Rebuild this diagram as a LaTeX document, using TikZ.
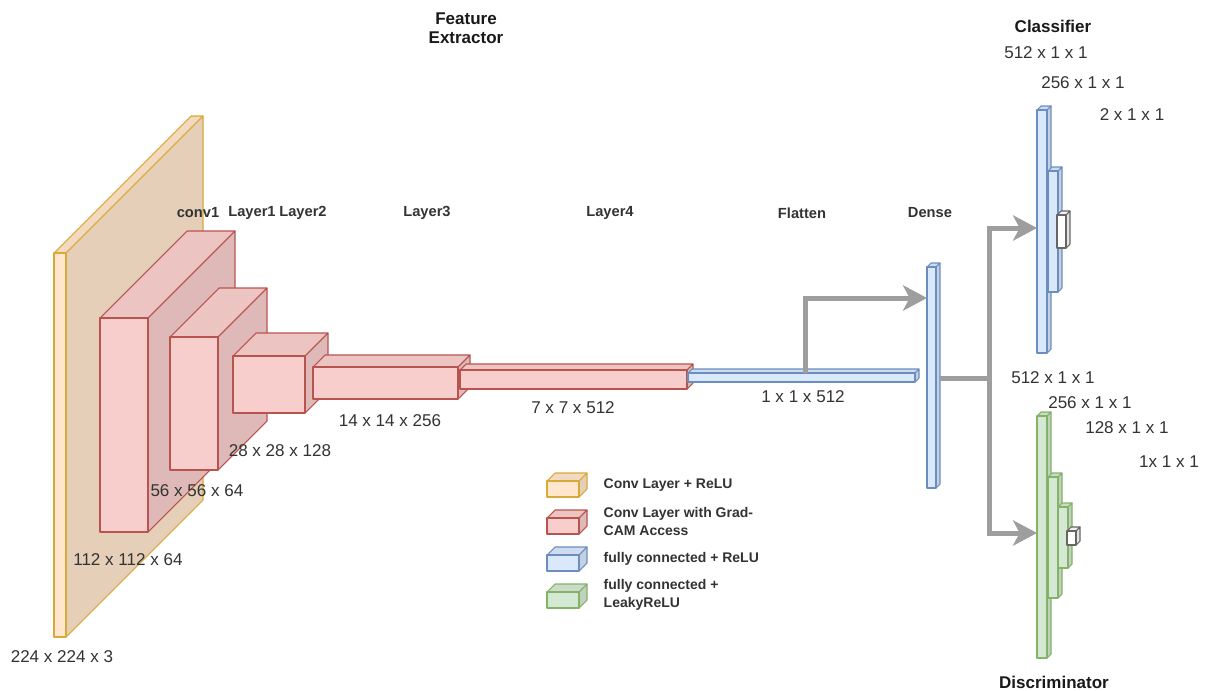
\documentclass[tikz,border=0pt]{standalone}
\usepackage{fontspec}
\setmainfont{Liberation Sans}
\usetikzlibrary{arrows.meta}
\definecolor{pinkF}{HTML}{F8CECC}\definecolor{pinkS}{HTML}{B85450}
\definecolor{yelF}{HTML}{FFE6CC}\definecolor{yelS}{HTML}{D9A93A}
\definecolor{bluF}{HTML}{DAE8FC}\definecolor{bluS}{HTML}{6C8EBF}
\definecolor{grnF}{HTML}{D5E8D4}\definecolor{grnS}{HTML}{82B366}
\definecolor{whtF}{HTML}{FFFFFF}\definecolor{whtS}{HTML}{666666}
\definecolor{arrowgrey}{HTML}{9E9E9E}
\definecolor{txt}{HTML}{333333}
\tikzset{
  cubeline/.style={line width=0.8pt, line join=round},
  ttl/.style={font=\bfseries\fontsize{12.75}{14.5}\selectfont, text=black!90, align=center},
  dim/.style={font=\fontsize{12.8}{15}\selectfont, text=txt},
  lyr/.style={font=\bfseries\fontsize{11}{13}\selectfont, text=txt},
  leg/.style={font=\bfseries\fontsize{10.5}{13.5}\selectfont, text=txt, anchor=west, align=left},
  arrowline/.style={draw=arrowgrey, line width=3.75pt},
  tipped/.style={-{Stealth[length=18pt, width=19pt, inset=5pt]}},
}
% name, x, y, w, h, d, fill, stroke
\newcommand\cuboid[8]{%
  \filldraw[draw=#8, fill=#7!95!black, cubeline] (#2,#3) -- ({#2+#6},{#3-#6}) -- ({#2+#4+#6},{#3-#6}) -- ({#2+#4},#3) -- cycle;
  \filldraw[draw=#8, fill=#7!90!black, cubeline] ({#2+#4},#3) -- ({#2+#4+#6},{#3-#6}) -- ({#2+#4+#6},{#3+#5-#6}) -- ({#2+#4},{#3+#5}) -- cycle;
  \node[draw=#8, fill=#7, cubeline, inner sep=0pt, outer sep=0pt, minimum width={#4*0.75pt}, minimum height={#5*0.75pt}, anchor=north west] (#1) at (#2,#3) {};
}
\begin{document}
\begin{tikzpicture}[x=0.75pt, y=-0.75pt]
\useasboundingbox (0,0) rectangle (1208,690);
% feature extractor
\cuboid{input}{54}{253}{12}{384}{137}{yelF}{yelS}
\cuboid{conv1}{100}{318}{48}{214}{87}{pinkF}{pinkS}
\cuboid{layer1}{170}{337}{48}{133}{49}{pinkF}{pinkS}
\cuboid{layer2}{233}{356}{72}{57}{23}{pinkF}{pinkS}
\cuboid{layer3}{313}{367}{145}{32}{12}{pinkF}{pinkS}
\cuboid{layer4}{460}{370}{227}{19}{6}{pinkF}{pinkS}
\cuboid{flat}{688}{373}{227}{9}{4}{bluF}{bluS}
\cuboid{dense}{927}{267}{9}{221}{4}{bluF}{bluS}
% classifier
\cuboid{c1}{1037}{110}{10}{243}{4}{bluF}{bluS}
\cuboid{c2}{1048}{171}{10}{121}{4}{bluF}{bluS}
\cuboid{c3}{1057}{215}{9}{33}{4}{whtF}{whtS}
% discriminator
\cuboid{d1}{1037}{416}{10}{242}{4}{grnF}{grnS}
\cuboid{d2}{1048}{477}{10}{121}{4}{grnF}{grnS}
\cuboid{d3}{1058}{507}{10}{61}{4}{grnF}{grnS}
\cuboid{d4}{1067}{531}{9}{14}{4}{whtF}{whtS}
% connectors
\coordinate (up) at (805,298);
\coordinate (split) at (989,378);
\coordinate (ct) at (989,228);
\coordinate (db) at (989,533);
\draw[arrowline, tipped] (flat.north -| up) -- (up) -- (up -| dense.west);
\draw[arrowline] ([xshift=3pt]dense.east |- split) -- (split);
\draw[arrowline, tipped] (split) -- (ct) -- (ct -| c1.west);
\draw[arrowline, tipped] (split) -- (db) -- (db -| d1.west);
% titles
\node[ttl] (tfe) at (466,28) {Feature\\Extractor};
\node[ttl] (tcl) at (1053,26) {Classifier};
\node[ttl] (tdi) at (1054,682) {Discriminator};
% layer labels
\node[lyr] (lc1) at (198,213) {conv1};
\node[lyr] (ll1) at (252,213) {Layer1};
\node[lyr] (ll2) at (303,213) {Layer2};
\node[lyr] (ll3) at (427,213) {Layer3};
\node[lyr] (ll4) at (610,213) {Layer4};
\node[lyr] (lfl) at (802,213) {Flatten};
\node[lyr] (lde) at (930,213) {Dense};
% dimension labels
\node[dim] (n224) at (62,657) {224 x 224 x 3};
\node[dim] (n112) at (128,560) {112 x 112 x 64};
\node[dim] (n56) at (197,491) {56 x 56 x 64};
\node[dim] (n28) at (280,451) {28 x 28 x 128};
\node[dim] (n14) at (390,421) {14 x 14 x 256};
\node[dim] (n7) at (573,408) {7 x 7 x 512};
\node[dim] (n1) at (803,397) {1 x 1 x 512};
\node[dim] (cl512) at (1046,53) {512 x 1 x 1};
\node[dim] (cl256) at (1083,83) {256 x 1 x 1};
\node[dim] (cl2) at (1132,115) {2 x 1 x 1};
\node[dim] (di512) at (1053,378) {512 x 1 x 1};
\node[dim] (di256) at (1090,403) {256 x 1 x 1};
\node[dim] (di128) at (1127,428) {128 x 1 x 1};
\node[dim] (di1) at (1169,462) {1x 1 x 1};
% legend
\cuboid{gy}{547}{481}{32}{16}{8}{yelF}{yelS}
\cuboid{gr}{547}{518}{32}{16}{8}{pinkF}{pinkS}
\cuboid{gb}{547}{555}{32}{16}{8}{bluF}{bluS}
\cuboid{gg}{547}{592}{32}{16}{8}{grnF}{grnS}
\node[leg] (ty) at (599,485) {Conv Layer + ReLU};
\node[leg] (tr) at (599,521) {Conv Layer with Grad-\\CAM Access};
\node[leg] (tb) at (599,559) {fully connected + ReLU};
\node[leg] (tg) at (599,595) {fully connected +\\LeakyReLU};
\end{tikzpicture}
\end{document}
